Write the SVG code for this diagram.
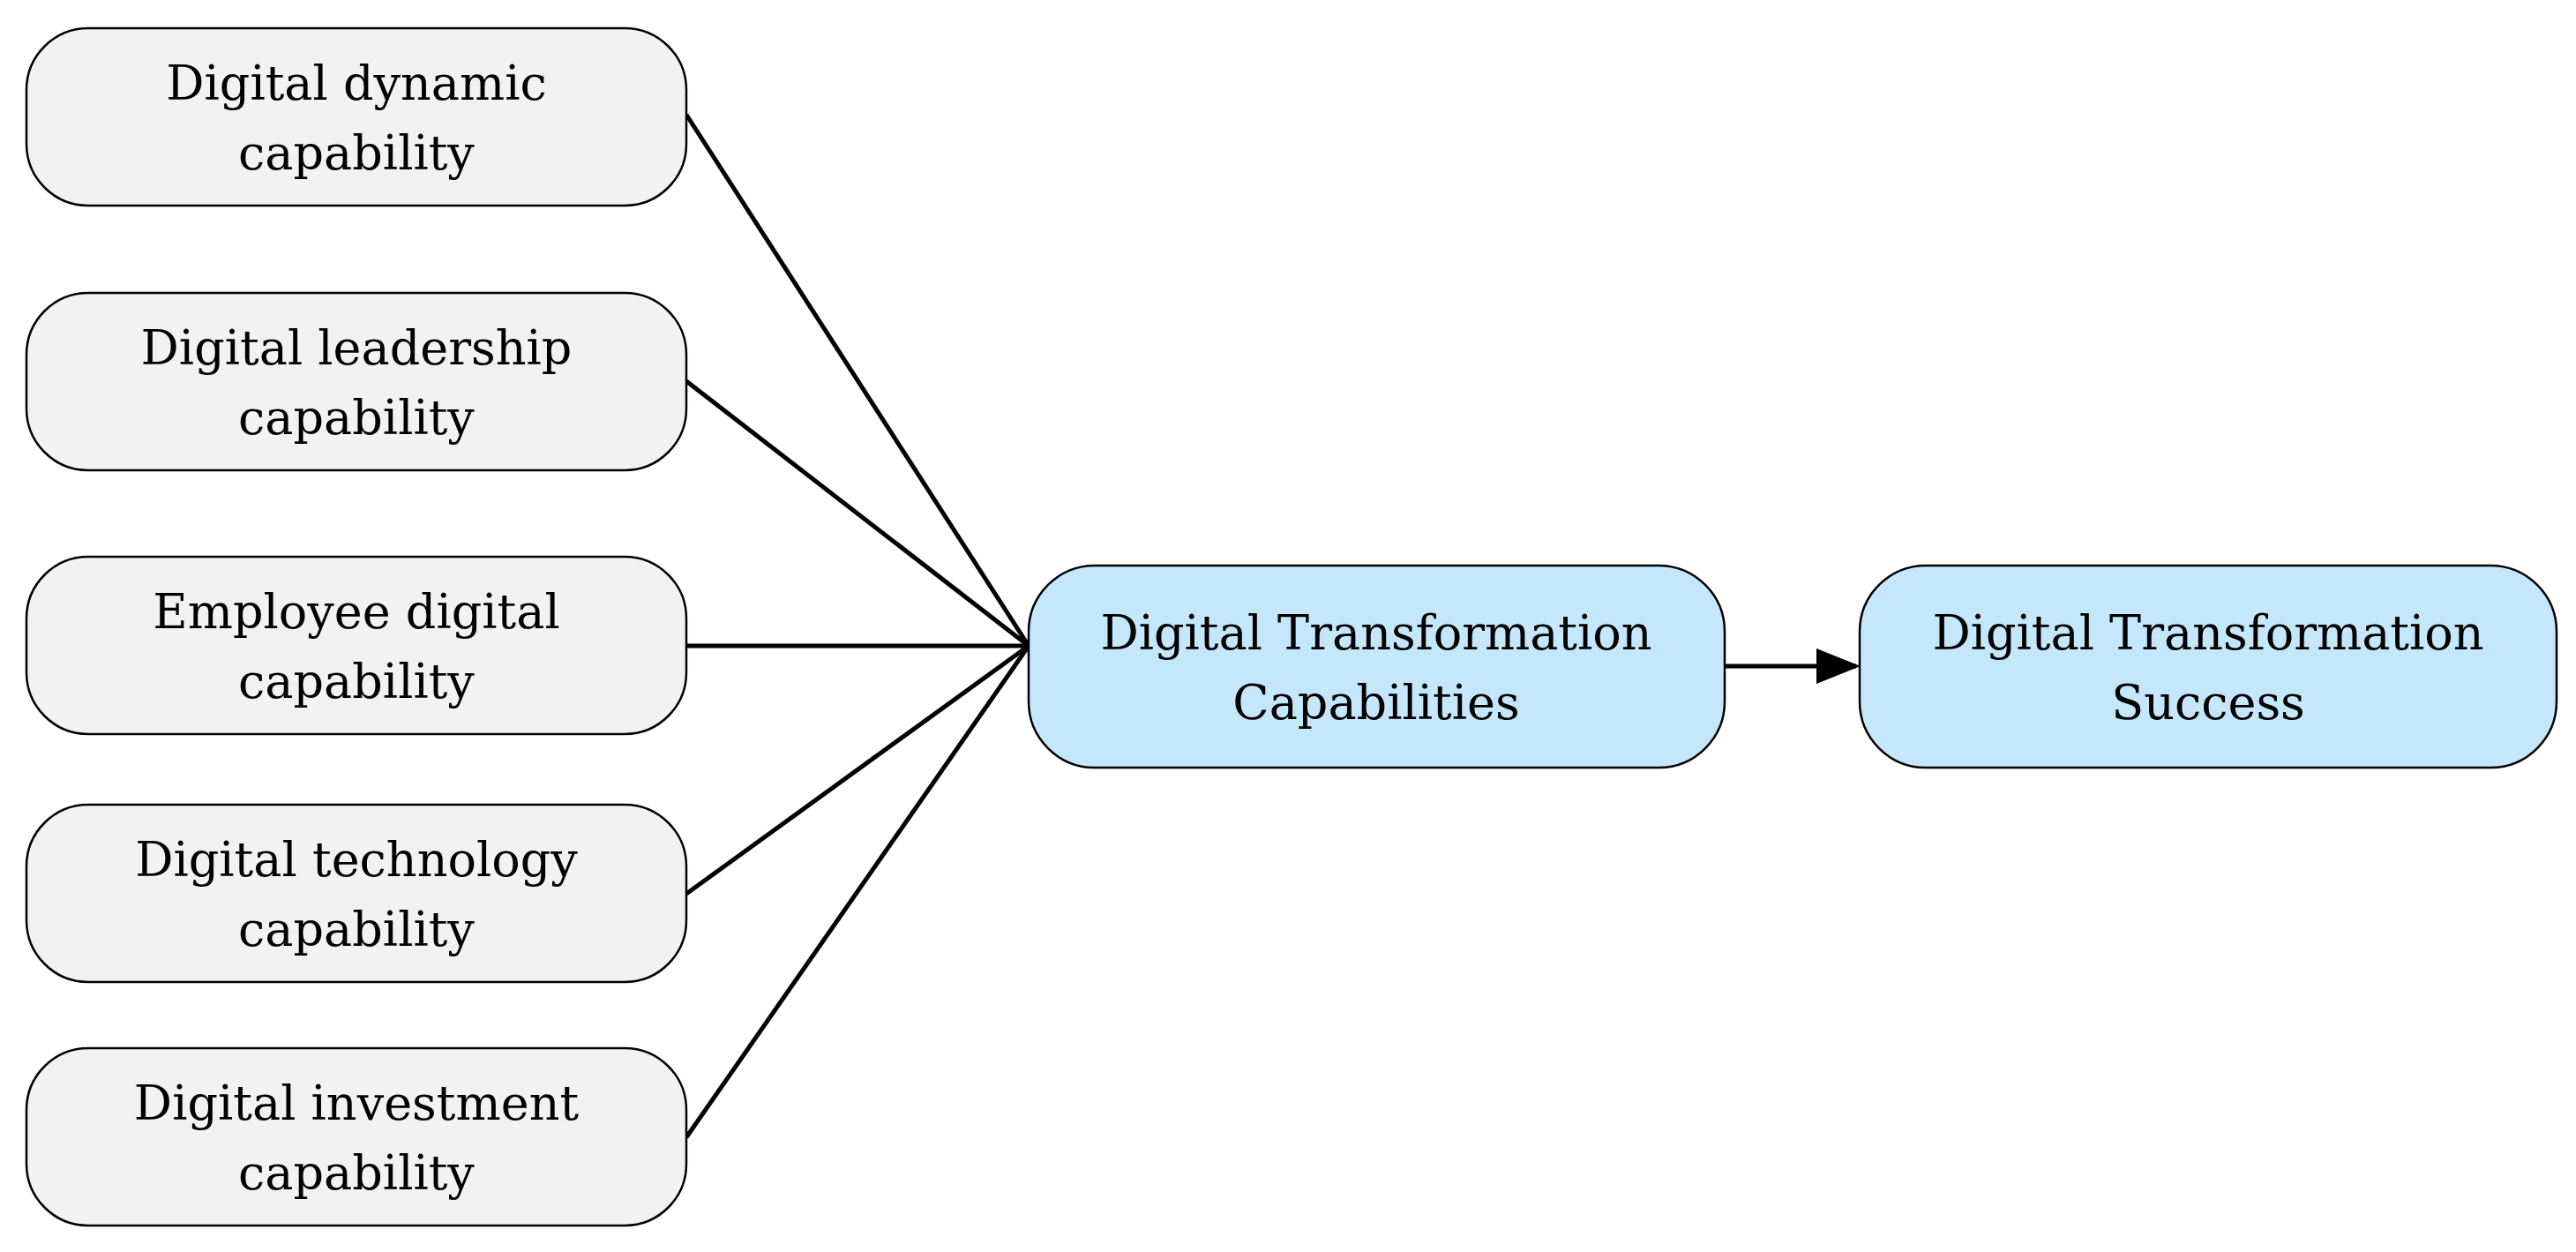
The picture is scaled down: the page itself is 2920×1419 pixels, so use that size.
<svg xmlns="http://www.w3.org/2000/svg" width="2920" height="1419" viewBox="0 0 2920 1419">
<style>
.g rect{fill:#f2f2f2;stroke:#000;stroke-width:2.5}
.b rect{fill:#c5e7fb;stroke:#000;stroke-width:2.5}
text{font-family:"DejaVu Serif","Liberation Serif",serif;font-size:54px;text-anchor:middle;fill:#000}
.c line{stroke:#000;stroke-width:5}
</style>
<defs><marker id="ah" markerWidth="10" markerHeight="8" refX="9" refY="4" orient="auto" markerUnits="strokeWidth"><path d="M0,0 L10,4 L0,8 Z" fill="#000"/></marker></defs>
<rect width="2920" height="1419" fill="#fff"/>
<g class="c">
<line x1="778" y1="130" x2="1166" y2="732"/>
<line x1="778" y1="432" x2="1166" y2="732"/>
<line x1="778" y1="732" x2="1166" y2="732"/>
<line x1="778" y1="1013" x2="1166" y2="732"/>
<line x1="778" y1="1289" x2="1166" y2="732"/>
<line x1="1955" y1="755" x2="2104" y2="755" marker-end="url(#ah)"/>
</g>
<g id="n1" class="g"><rect x="30" y="32" width="748" height="201" rx="70"/><text x="404" y="113">Digital dynamic</text><text x="404" y="192">capability</text></g>
<g id="n2" class="g"><rect x="30" y="332" width="748" height="201" rx="70"/><text x="404" y="413">Digital leadership</text><text x="404" y="492">capability</text></g>
<g id="n3" class="g"><rect x="30" y="631" width="748" height="201" rx="70"/><text x="404" y="712">Employee digital</text><text x="404" y="791">capability</text></g>
<g id="n4" class="g"><rect x="30" y="912" width="748" height="201" rx="70"/><text x="404" y="993">Digital technology</text><text x="404" y="1072">capability</text></g>
<g id="n5" class="g"><rect x="30" y="1188" width="748" height="201" rx="70"/><text x="404" y="1269">Digital investment</text><text x="404" y="1348">capability</text></g>
<g id="n6" class="b"><rect x="1166" y="641" width="789" height="229" rx="75"/><text x="1560" y="736">Digital Transformation</text><text x="1560" y="815">Capabilities</text></g>
<g id="n7" class="b"><rect x="2108" y="641" width="790" height="229" rx="75"/><text x="2503" y="736">Digital Transformation</text><text x="2503" y="815">Success</text></g>
</svg>
